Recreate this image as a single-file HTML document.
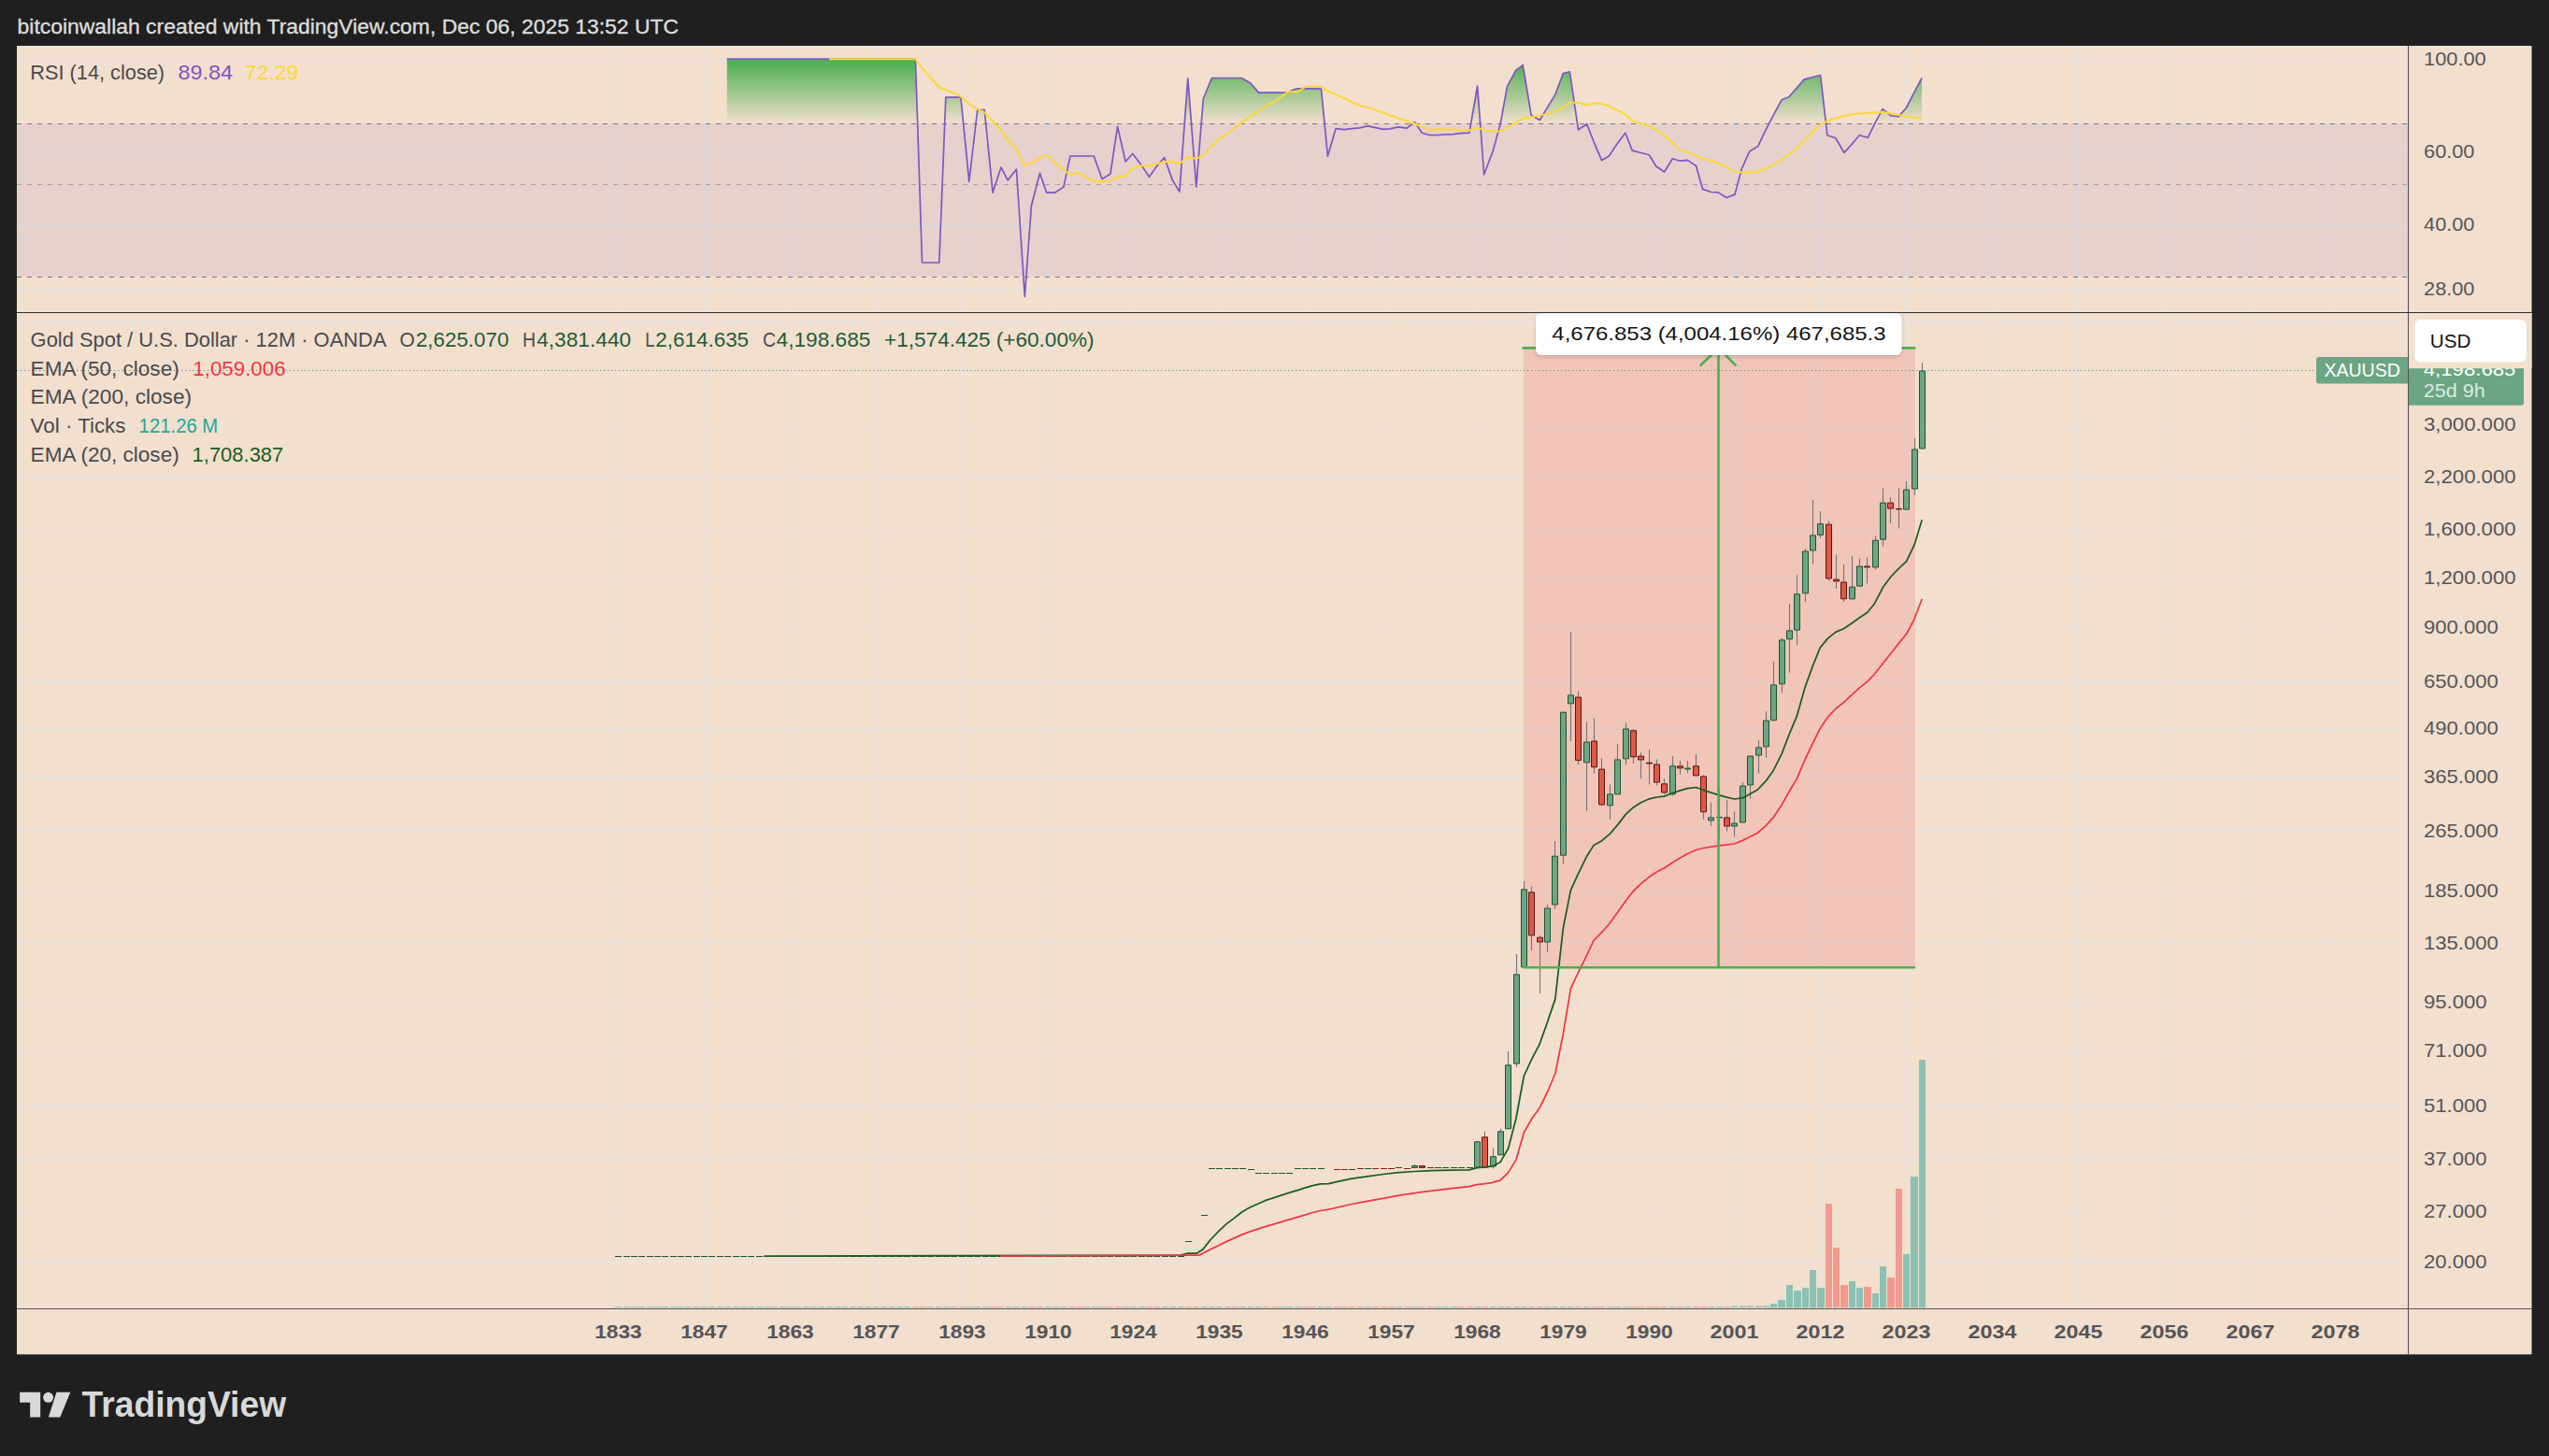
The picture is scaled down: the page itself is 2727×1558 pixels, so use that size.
<!DOCTYPE html>
<html lang="en"><head><meta charset="utf-8"><title>XAUUSD 12M chart</title>
<style>html,body{margin:0;padding:0;background:#1f1f1f;}body{width:2727px;height:1558px;overflow:hidden;}svg{display:block;}text{white-space:pre;}</style>
</head><body>
<svg width="2727" height="1558" viewBox="0 0 2727 1558" font-family="'Liberation Sans', sans-serif">
<defs>
<linearGradient id="gr" gradientUnits="userSpaceOnUse" x1="0" y1="63" x2="0" y2="132.5"><stop offset="0" stop-color="#4caf50" stop-opacity="1"/><stop offset="0.12" stop-color="#4caf50" stop-opacity="0.92"/><stop offset="1" stop-color="#4caf50" stop-opacity="0"/></linearGradient>
<clipPath id="cpR"><rect x="18" y="49" width="2558.5" height="285.5"/></clipPath>
<clipPath id="cp70"><rect x="18" y="49" width="2558.5" height="83.5"/></clipPath>
<clipPath id="cpM"><rect x="18" y="334.5" width="2558.5" height="1066.0"/></clipPath>
<filter id="sh" x="-5%" y="-20%" width="110%" height="150%"><feDropShadow dx="0" dy="2" stdDeviation="2" flood-color="#000" flood-opacity="0.18"/></filter>
</defs>
<rect width="2727" height="1558" fill="#1f1f1f"/>
<rect x="18" y="49" width="2690.5" height="1400.3" fill="#f2dfce"/>
<path d="M661.5 49V334.0M661.5 335.0V1400.0M753.5 49V334.0M753.5 335.0V1400.0M845.5 49V334.0M845.5 335.0V1400.0M937.5 49V334.0M937.5 335.0V1400.0M1029.5 49V334.0M1029.5 335.0V1400.0M1121.5 49V334.0M1121.5 335.0V1400.0M1212.5 49V334.0M1212.5 335.0V1400.0M1304.5 49V334.0M1304.5 335.0V1400.0M1396.5 49V334.0M1396.5 335.0V1400.0M1488.5 49V334.0M1488.5 335.0V1400.0M1580.5 49V334.0M1580.5 335.0V1400.0M1672.5 49V334.0M1672.5 335.0V1400.0M1764.5 49V334.0M1764.5 335.0V1400.0M1855.5 49V334.0M1855.5 335.0V1400.0M1947.5 49V334.0M1947.5 335.0V1400.0M2039.5 49V334.0M2039.5 335.0V1400.0M2131.5 49V334.0M2131.5 335.0V1400.0M2223.5 49V334.0M2223.5 335.0V1400.0M2315.5 49V334.0M2315.5 335.0V1400.0M2407.5 49V334.0M2407.5 335.0V1400.0M2498.5 49V334.0M2498.5 335.0V1400.0M18 63.5H2576.0M18 162.5H2576.0M18 240.5H2576.0M18 309.5H2576.0M18 344.5H2576.0M18 456.5H2576.0M18 511.5H2576.0M18 568.5H2576.0M18 619.5H2576.0M18 670.5H2576.0M18 729.5H2576.0M18 779.5H2576.0M18 831.5H2576.0M18 889.5H2576.0M18 953.5H2576.0M18 1009.5H2576.0M18 1072.5H2576.0M18 1124.5H2576.0M18 1183.5H2576.0M18 1240.5H2576.0M18 1296.5H2576.0M18 1350.5H2576.0" stroke="#e6e4e2" stroke-width="1" fill="none"/>
<rect x="18" y="132" width="2558.0" height="163.8" fill="#7e57c2" fill-opacity="0.1"/>
<path d="M18 132.5H2575.5M18 296.5H2575.5" stroke="#747a8a" stroke-width="1.1" stroke-dasharray="5 6" fill="none"/>
<path d="M18 197.5H2575.5" stroke="#747a8a" stroke-opacity="0.55" stroke-width="1.1" stroke-dasharray="5 6" fill="none"/>
<polygon points="777.8,132.5 777.8,63.2 979.4,63.2 986.5,281.0 1004.8,281.0 1011.8,104.2 1027.9,104.2 1036.8,194.3 1045.7,117.5 1053.2,117.5 1062.1,206.1 1071.0,179.1 1078.1,192.9 1087.4,181.2 1096.3,317.5 1103.4,220.3 1112.5,185.2 1119.6,206.1 1128.7,206.1 1137.9,200.0 1145.0,167.0 1170.3,167.0 1179.0,191.5 1187.9,186.2 1195.6,135.4 1204.1,173.0 1211.7,164.5 1220.4,175.7 1229.5,189.3 1237.6,177.7 1245.7,168.6 1254.4,192.9 1261.9,205.1 1270.8,83.9 1279.8,200.0 1287.3,105.8 1296.4,83.5 1328.4,83.5 1337.9,89.0 1346.6,99.1 1376.4,99.1 1386.5,95.0 1394.6,94.7 1413.5,95.2 1420.4,167.2 1429.1,137.6 1438.2,138.6 1446.3,137.6 1454.4,136.8 1463.5,134.8 1471.6,136.6 1479.7,138.4 1486.8,137.8 1495.9,135.8 1504.7,137.2 1513.6,130.7 1521.3,142.3 1530.4,144.7 1538.5,144.5 1546.6,143.9 1554.7,143.7 1562.8,142.7 1571.9,142.1 1580.6,92.0 1587.7,186.8 1597.2,161.5 1605.3,132.1 1612.4,92.6 1621.6,75.4 1629.2,69.6 1638.1,123.2 1647.4,128.5 1655.5,114.9 1663.6,101.7 1672.3,78.6 1679.4,76.8 1688.5,138.8 1697.6,132.7 1705.1,151.8 1713.6,171.6 1721.3,167.0 1730.4,153.4 1738.9,142.3 1746.2,161.1 1755.7,163.5 1764.3,165.8 1771.6,177.7 1780.5,184.0 1789.4,169.8 1797.3,172.2 1805.4,171.4 1814.5,177.5 1821.6,202.4 1830.7,205.5 1838.2,205.9 1846.9,211.5 1856.0,208.1 1863.1,181.2 1871.8,161.9 1880.8,156.4 1888.5,140.2 1897.6,122.6 1906.1,106.8 1913.8,103.8 1921.9,94.6 1930.0,85.1 1939.1,82.5 1947.6,80.7 1954.9,144.7 1963.8,147.7 1972.9,163.3 1980.6,155.0 1989.2,144.7 1998.3,147.3 2006.0,131.7 2014.1,116.7 2023.2,124.0 2031.3,124.6 2039.4,115.5 2047.5,99.7 2056.0,83.5 2056.0,132.5" fill="url(#gr)" clip-path="url(#cp70)"/>
<polyline points="777.8,63.2 979.4,63.2 986.5,281.0 1004.8,281.0 1011.8,104.2 1027.9,104.2 1036.8,194.3 1045.7,117.5 1053.2,117.5 1062.1,206.1 1071.0,179.1 1078.1,192.9 1087.4,181.2 1096.3,317.5 1103.4,220.3 1112.5,185.2 1119.6,206.1 1128.7,206.1 1137.9,200.0 1145.0,167.0 1170.3,167.0 1179.0,191.5 1187.9,186.2 1195.6,135.4 1204.1,173.0 1211.7,164.5 1220.4,175.7 1229.5,189.3 1237.6,177.7 1245.7,168.6 1254.4,192.9 1261.9,205.1 1270.8,83.9 1279.8,200.0 1287.3,105.8 1296.4,83.5 1328.4,83.5 1337.9,89.0 1346.6,99.1 1376.4,99.1 1386.5,95.0 1394.6,94.7 1413.5,95.2 1420.4,167.2 1429.1,137.6 1438.2,138.6 1446.3,137.6 1454.4,136.8 1463.5,134.8 1471.6,136.6 1479.7,138.4 1486.8,137.8 1495.9,135.8 1504.7,137.2 1513.6,130.7 1521.3,142.3 1530.4,144.7 1538.5,144.5 1546.6,143.9 1554.7,143.7 1562.8,142.7 1571.9,142.1 1580.6,92.0 1587.7,186.8 1597.2,161.5 1605.3,132.1 1612.4,92.6 1621.6,75.4 1629.2,69.6 1638.1,123.2 1647.4,128.5 1655.5,114.9 1663.6,101.7 1672.3,78.6 1679.4,76.8 1688.5,138.8 1697.6,132.7 1705.1,151.8 1713.6,171.6 1721.3,167.0 1730.4,153.4 1738.9,142.3 1746.2,161.1 1755.7,163.5 1764.3,165.8 1771.6,177.7 1780.5,184.0 1789.4,169.8 1797.3,172.2 1805.4,171.4 1814.5,177.5 1821.6,202.4 1830.7,205.5 1838.2,205.9 1846.9,211.5 1856.0,208.1 1863.1,181.2 1871.8,161.9 1880.8,156.4 1888.5,140.2 1897.6,122.6 1906.1,106.8 1913.8,103.8 1921.9,94.6 1930.0,85.1 1939.1,82.5 1947.6,80.7 1954.9,144.7 1963.8,147.7 1972.9,163.3 1980.6,155.0 1989.2,144.7 1998.3,147.3 2006.0,131.7 2014.1,116.7 2023.2,124.0 2031.3,124.6 2039.4,115.5 2047.5,99.7 2056.0,83.5" fill="none" stroke="#7e57c2" stroke-width="1.7" stroke-linejoin="round" clip-path="url(#cpR)"/>
<polyline points="887.0,63.2 979.4,63.2 985.7,71.9 1004.5,93.2 1023.4,100.7 1027.9,103.4 1037.6,111.9 1053.2,120.4 1071.0,139.2 1078.1,149.3 1087.4,159.9 1096.3,177.1 1103.4,174.1 1119.6,165.6 1128.7,174.1 1145.0,187.2 1153.7,184.8 1170.3,194.3 1187.9,193.5 1195.5,188.9 1204.2,188.4 1211.7,180.1 1220.4,177.3 1229.5,177.7 1237.6,175.3 1245.7,173.3 1254.4,172.6 1261.9,175.3 1270.8,167.6 1279.8,170.0 1287.3,165.6 1296.4,156.4 1304.7,148.3 1313.6,142.3 1328.4,131.1 1337.9,124.6 1346.6,118.5 1355.1,112.9 1364.2,108.2 1371.3,103.4 1378.4,97.7 1387.5,98.7 1396.7,93.0 1404.8,92.2 1413.5,93.0 1420.4,97.7 1429.1,101.1 1446.3,109.2 1454.4,112.5 1463.5,115.1 1479.7,120.6 1495.9,126.4 1513.6,132.5 1530.4,139.4 1538.5,138.0 1554.7,138.8 1571.9,139.4 1580.6,136.6 1587.7,139.2 1597.2,140.8 1605.3,140.2 1617.5,133.7 1629.1,126.7 1638.2,125.2 1647.4,123.6 1655.5,121.6 1663.6,119.4 1672.3,114.9 1679.4,109.8 1688.5,109.8 1697.6,112.5 1705.1,110.4 1713.6,111.1 1721.3,113.5 1730.4,117.9 1738.9,122.4 1746.2,129.3 1755.7,132.1 1764.3,134.6 1771.6,138.8 1780.5,144.7 1789.4,152.4 1796.3,160.1 1805.4,162.9 1814.5,166.6 1821.6,169.6 1830.7,172.0 1838.2,174.7 1846.9,178.7 1856.0,183.4 1863.1,184.6 1871.8,184.6 1880.8,183.8 1888.5,180.7 1897.6,176.1 1906.1,171.0 1913.8,164.9 1921.9,159.1 1930.0,150.8 1939.1,141.2 1947.6,133.1 1954.9,129.7 1963.8,126.5 1972.9,124.2 1980.6,122.6 1989.2,121.6 1998.3,121.0 2006.0,120.4 2014.1,120.0 2023.2,121.6 2031.3,123.0 2039.4,124.6 2047.5,125.8 2056.0,126.0" fill="none" stroke="#fdd835" stroke-width="2" stroke-linejoin="round" clip-path="url(#cpR)"/>
<g clip-path="url(#cpM)">
<rect x="1630" y="372.5" width="419" height="662.8" fill="#f23645" fill-opacity="0.15"/>
<path d="M658.0 1398.0h7v1.0h-7zM667.0 1398.0h7v1.0h-7zM675.0 1398.0h7v1.0h-7zM683.0 1398.0h7v1.0h-7zM692.0 1398.0h7v1.0h-7zM700.0 1398.0h7v1.0h-7zM708.0 1398.0h7v1.0h-7zM717.0 1398.0h7v1.0h-7zM725.0 1398.0h7v1.0h-7zM733.0 1398.0h7v1.0h-7zM742.0 1398.0h7v1.0h-7zM750.0 1398.0h7v1.0h-7zM758.0 1398.0h7v1.0h-7zM767.0 1398.0h7v1.0h-7zM775.0 1398.0h7v1.0h-7zM784.0 1398.0h7v1.0h-7zM792.0 1398.0h7v1.0h-7zM800.0 1398.0h7v1.0h-7zM809.0 1398.0h7v1.0h-7zM817.0 1398.0h7v1.0h-7zM825.0 1398.0h7v1.0h-7zM834.0 1398.0h7v1.0h-7zM842.0 1398.0h7v1.0h-7zM850.0 1398.0h7v1.0h-7zM859.0 1398.0h7v1.0h-7zM867.0 1398.0h7v1.0h-7zM875.0 1398.0h7v1.0h-7zM884.0 1398.0h7v1.0h-7zM892.0 1398.0h7v1.0h-7zM900.0 1398.0h7v1.0h-7zM909.0 1398.0h7v1.0h-7zM917.0 1398.0h7v1.0h-7zM925.0 1398.0h7v1.0h-7zM934.0 1398.0h7v1.0h-7zM942.0 1398.0h7v1.0h-7zM951.0 1398.0h7v1.0h-7zM959.0 1398.0h7v1.0h-7zM967.0 1398.0h7v1.0h-7zM992.0 1398.0h7v1.0h-7zM1001.0 1398.0h7v1.0h-7zM1009.0 1398.0h7v1.0h-7zM1034.0 1398.0h7v1.0h-7zM1042.0 1398.0h7v1.0h-7zM1051.0 1398.0h7v1.0h-7zM1076.0 1398.0h7v1.0h-7zM1084.0 1398.0h7v1.0h-7zM1093.0 1398.0h7v1.0h-7zM1118.0 1398.0h7v1.0h-7zM1126.0 1398.0h7v1.0h-7zM1134.0 1398.0h7v1.0h-7zM1159.0 1398.0h7v1.0h-7zM1168.0 1398.0h7v1.0h-7zM1176.0 1398.0h7v1.0h-7zM1201.0 1398.0h7v1.0h-7zM1209.0 1398.0h7v1.0h-7zM1218.0 1398.0h7v1.0h-7zM1243.0 1398.0h7v1.0h-7zM1251.0 1398.0h7v1.0h-7zM1260.0 1398.0h7v1.0h-7zM1285.0 1398.0h7v1.0h-7zM1293.0 1398.0h7v1.0h-7zM1301.0 1398.0h7v1.0h-7zM1326.0 1398.0h7v1.0h-7zM1335.0 1398.0h7v1.0h-7zM1343.0 1398.0h7v1.0h-7zM1368.0 1398.0h7v1.0h-7zM1376.0 1398.0h7v1.0h-7zM1385.0 1398.0h7v1.0h-7zM1410.0 1398.0h7v1.0h-7zM1418.0 1398.0h7v1.0h-7zM1460.0 1398.0h7v1.0h-7zM1493.0 1398.0h7v1.0h-7zM1510.0 1398.0h7v1.0h-7zM1535.0 1398.0h7v1.0h-7zM1543.0 1398.0h7v1.0h-7zM1552.0 1398.0h7v1.0h-7zM1577.0 1398.0h7v1.0h-7zM1594.0 1398.0h7v1.0h-7zM1602.0 1398.0h7v1.0h-7zM1610.0 1398.0h7v1.0h-7zM1619.0 1398.0h7v1.0h-7zM1627.0 1398.0h7v1.0h-7zM1652.0 1398.0h7v1.0h-7zM1660.0 1398.0h7v1.0h-7zM1669.0 1398.0h7v1.0h-7zM1677.0 1398.0h7v1.0h-7zM1694.0 1398.0h7v1.0h-7zM1719.0 1398.0h7v1.0h-7zM1727.0 1398.0h7v1.0h-7zM1736.0 1398.0h7v1.0h-7zM1786.0 1398.0h7v1.0h-7zM1802.0 1398.0h7v1.0h-7zM1827.0 1398.0h7v1.0h-7zM1836.0 1398.0h7v1.0h-7zM1852.0 1397.4h7v1.6h-7zM1861.0 1397.4h7v1.6h-7zM1869.0 1397.4h7v1.6h-7zM1878.0 1397.4h7v1.6h-7zM1886.0 1397.4h7v1.6h-7zM2053 1133.9H2060V1399.2H2053zM2044 1259.0H2052V1399.2H2044zM2036 1342.1H2043V1399.2H2036zM2011 1355.0H2018V1399.2H2011zM2003 1383.9H2010V1399.2H2003zM1986 1377.9H1993V1399.2H1986zM1978 1371.0H1985V1399.2H1978zM1944 1377.9H1952V1399.2H1944zM1936 1359.0H1943V1399.2H1936zM1928 1377.9H1935V1399.2H1928zM1919 1380.9H1927V1399.2H1919zM1911 1374.9H1918V1399.2H1911zM1902 1390.9H1910V1399.2H1902zM1894 1394.9H1901V1399.2H1894z" fill="#8cc1b4"/>
<path d="M976.0 1398.0h7v1.0h-7zM984.0 1398.0h7v1.0h-7zM1017.0 1398.0h7v1.0h-7zM1026.0 1398.0h7v1.0h-7zM1059.0 1398.0h7v1.0h-7zM1067.0 1398.0h7v1.0h-7zM1101.0 1398.0h7v1.0h-7zM1109.0 1398.0h7v1.0h-7zM1143.0 1398.0h7v1.0h-7zM1151.0 1398.0h7v1.0h-7zM1184.0 1398.0h7v1.0h-7zM1193.0 1398.0h7v1.0h-7zM1226.0 1398.0h7v1.0h-7zM1234.0 1398.0h7v1.0h-7zM1268.0 1398.0h7v1.0h-7zM1276.0 1398.0h7v1.0h-7zM1310.0 1398.0h7v1.0h-7zM1318.0 1398.0h7v1.0h-7zM1351.0 1398.0h7v1.0h-7zM1360.0 1398.0h7v1.0h-7zM1393.0 1398.0h7v1.0h-7zM1401.0 1398.0h7v1.0h-7zM1427.0 1398.0h7v1.0h-7zM1435.0 1398.0h7v1.0h-7zM1443.0 1398.0h7v1.0h-7zM1452.0 1398.0h7v1.0h-7zM1468.0 1398.0h7v1.0h-7zM1477.0 1398.0h7v1.0h-7zM1485.0 1398.0h7v1.0h-7zM1502.0 1398.0h7v1.0h-7zM1518.0 1398.0h7v1.0h-7zM1527.0 1398.0h7v1.0h-7zM1560.0 1398.0h7v1.0h-7zM1569.0 1398.0h7v1.0h-7zM1585.0 1398.0h7v1.0h-7zM1635.0 1398.0h7v1.0h-7zM1644.0 1398.0h7v1.0h-7zM1685.0 1398.0h7v1.0h-7zM1702.0 1398.0h7v1.0h-7zM1710.0 1398.0h7v1.0h-7zM1744.0 1398.0h7v1.0h-7zM1752.0 1398.0h7v1.0h-7zM1761.0 1398.0h7v1.0h-7zM1769.0 1398.0h7v1.0h-7zM1777.0 1398.0h7v1.0h-7zM1794.0 1398.0h7v1.0h-7zM1811.0 1398.0h7v1.0h-7zM1819.0 1398.0h7v1.0h-7zM1844.0 1398.0h7v1.0h-7zM2028 1272.0H2035V1399.2H2028zM2019 1367.0H2027V1399.2H2019zM1994 1376.9H2002V1399.2H1994zM1969 1374.9H1977V1399.2H1969zM1961 1334.9H1968V1399.2H1961zM1953 1287.9H1960V1399.2H1953z" fill="#f19a90"/>
<path d="M2056.5 388.1V396.4M2048.5 469.1V480.4M2048.5 523.5V529.8M2039.5 515.0V523.5M2039.5 545.6V546.0M2031.5 521.8V544.0M2031.5 545.2V565.6M2022.5 532.3V537.6M2022.5 544.6V559.9M2014.5 521.8V537.6M2014.5 577.7V584.4M2006.5 573.2V577.7M2006.5 607.5V609.5M1997.5 596.2V605.5M1997.5 607.5V624.5M1989.5 597.5V605.5M1989.5 627.6V628.0M1981.5 595.0V627.6M1981.5 641.3V641.8M1972.5 604.0V622.5M1972.5 641.3V643.9M1964.5 593.2V619.5M1964.5 622.5V630.1M1956.5 557.4V560.6M1956.5 619.5V621.5M1947.5 547.0V560.2M1947.5 572.8V575.9M1939.5 535.0V572.4M1939.5 589.5V603.7M1931.5 587.0V589.5M1931.5 635.3V643.9M1922.5 615.3V635.3M1922.5 674.7V690.5M1914.5 646.3V674.4M1914.5 684.4V719.7M1906.5 682.4V684.4M1906.5 732.4V741.6M1897.5 708.1V732.4M1889.5 761.2V770.6M1889.5 799.4V810.8M1881.5 792.3V799.4M1881.5 808.6V827.5M1872.5 840.5V854.8M1864.5 837.1V840.5M1855.5 868.2V880.5M1855.5 884.5V895.6M1847.5 856.1V874.4M1847.5 884.5V889.6M1839.5 844.3V874.0M1839.5 875.0V897.9M1830.5 858.4V874.4M1830.5 878.4V883.8M1822.5 829.3V830.4M1822.5 869.3V876.7M1814.5 807.0V819.3M1805.5 814.1V821.5M1805.5 823.5V827.5M1797.5 814.1V819.3M1797.5 822.4V828.7M1789.5 809.2V819.3M1789.5 850.3V851.7M1780.5 833.1V838.3M1780.5 848.5V849.9M1772.5 812.4V817.5M1772.5 837.6V840.5M1764.5 802.3V815.7M1764.5 817.5V839.4M1755.5 805.2V808.6M1755.5 813.5V833.6M1747.5 780.2V781.3M1747.5 810.4V816.8M1739.5 773.3V779.5M1739.5 812.4V818.6M1730.5 796.3V812.4M1722.5 839.4V849.4M1722.5 862.4V876.7M1713.5 811.5V822.6M1713.5 861.5V862.6M1705.5 768.4V792.5M1705.5 821.3V827.5M1697.5 772.2V793.6M1697.5 816.4V867.7M1688.5 739.4V745.6M1688.5 814.1V818.6M1680.5 676.2V743.4M1680.5 753.4V792.9M1672.5 915.7V924.7M1663.5 900.1V915.7M1663.5 968.4V972.6M1655.5 968.1V971.4M1655.5 1008.5V1019.0M1647.5 1001.0V1002.7M1647.5 1008.5V1062.9M1638.5 948.8V954.3M1638.5 1001.4V1017.0M1630.5 943.0V951.3M1622.5 1021.0V1042.3M1622.5 1138.6V1141.8M1613.5 1125.0V1139.3M1605.5 1207.8V1210.3M1597.5 1228.8V1237.1M1597.5 1248.4V1250.4M1588.5 1210.8V1216.3M1513.5 1246.0V1247.1" stroke="#737578" stroke-width="1.1" fill="none"/>
<path d="M658.0 1344.5h7M667.0 1344.5h7M675.0 1344.5h7M683.0 1344.5h7M692.0 1344.5h7M700.0 1344.5h7M708.0 1344.5h7M717.0 1344.5h7M725.0 1344.5h7M733.0 1344.5h7M742.0 1344.5h7M750.0 1344.5h7M758.0 1344.5h7M767.0 1344.5h7M775.0 1344.5h7M784.0 1344.5h7M792.0 1344.5h7M800.0 1344.5h7M809.0 1344.5h7M817.0 1344.5h7M825.0 1344.5h7M834.0 1344.5h7M842.0 1344.5h7M850.0 1344.5h7M859.0 1344.5h7M867.0 1344.5h7M875.0 1344.5h7M884.0 1344.5h7M892.0 1344.5h7M900.0 1344.5h7M909.0 1344.5h7M917.0 1344.5h7M925.0 1344.5h7M934.0 1344.5h7M942.0 1344.5h7M951.0 1344.5h7M959.0 1344.5h7M967.0 1344.5h7M976.0 1344.5h7M984.0 1344.5h7M992.0 1344.5h7M1001.0 1344.5h7M1009.0 1344.5h7M1017.0 1344.5h7M1026.0 1344.5h7M1034.0 1344.5h7M1042.0 1344.5h7M1051.0 1344.5h7M1059.0 1344.5h7M1067.0 1344.5h7M1076.0 1344.5h7M1084.0 1344.5h7M1093.0 1344.5h7M1101.0 1344.5h7M1109.0 1344.5h7M1118.0 1344.5h7M1126.0 1344.5h7M1134.0 1344.5h7M1143.0 1344.5h7M1151.0 1344.5h7M1159.0 1344.5h7M1168.0 1344.5h7M1176.0 1344.5h7M1184.0 1344.5h7M1193.0 1344.5h7M1201.0 1344.5h7M1209.0 1344.5h7M1218.0 1344.5h7M1226.0 1344.5h7M1234.0 1344.5h7M1243.0 1344.5h7M1251.0 1344.5h7M1260.0 1344.5h7M1268.0 1328.5h7M1276.0 1343.5h7M1285.0 1300.5h7M1293.0 1250.5h7M1301.0 1250.5h7M1310.0 1250.5h7M1318.0 1250.5h7M1326.0 1250.5h7M1335.0 1251.5h7M1343.0 1255.5h7M1351.0 1255.5h7M1360.0 1255.5h7M1368.0 1255.5h7M1376.0 1255.5h7M1385.0 1250.5h7M1393.0 1250.5h7M1401.0 1250.5h7M1410.0 1250.5h7M1418.0 1266.5h7M1443.0 1251.5h7M1460.0 1250.5h7M1493.0 1249.5h7M1535.0 1249.5h7M1543.0 1249.5h7M1552.0 1249.5h7M1560.0 1249.5h7M1569.0 1249.5h7" stroke="#1b5232" stroke-width="1.15" fill="none"/>
<path d="M1427.0 1251.5h7M1435.0 1251.5h7M1452.0 1250.5h7M1468.0 1250.5h7M1477.0 1250.5h7M1485.0 1250.5h7M1502.0 1250.5h7M1527.0 1249.5h7" stroke="#7a2018" stroke-width="1.15" fill="none"/>
<path d="M2053.5 396.9h6v83.0h-6zM2045.5 480.9h6v42.1h-6zM2036.5 524.0h6v21.1h-6zM2011.5 538.1h6v39.1h-6zM2003.5 578.2h6v28.8h-6zM1986.5 606.0h6v21.1h-6zM1978.5 628.1h6v12.7h-6zM1944.5 560.7h6v11.6h-6zM1936.5 572.9h6v16.1h-6zM1928.5 590.0h6v44.8h-6zM1919.5 635.8h6v38.4h-6zM1911.5 674.9h6v9.0h-6zM1903.5 684.9h6v47.0h-6zM1894.5 732.9h6v37.9h-6zM1886.5 771.1h6v27.8h-6zM1878.5 799.9h6v8.2h-6zM1869.5 809.1h6v30.9h-6zM1861.5 841.0h6v39.0h-6zM1852.5 881.0h6v3.0h-6zM1836.5 874.5h6v0.4h-6zM1827.5 874.9h6v3.0h-6zM1802.5 822.0h6v1.0h-6zM1786.5 819.8h6v30.0h-6zM1736.5 780.0h6v31.9h-6zM1727.5 812.9h6v36.9h-6zM1719.5 849.9h6v12.0h-6zM1694.5 794.1h6v21.8h-6zM1677.5 743.9h6v9.0h-6zM1669.5 762.2h6v153.0h-6zM1660.5 916.2h6v51.7h-6zM1652.5 971.9h6v36.1h-6zM1627.5 951.8h6v83.0h-6zM1619.5 1042.8h6v95.3h-6zM1610.5 1139.8h6v68.0h-6zM1602.5 1210.8h6v25.0h-6zM1594.5 1237.6h6v10.3h-6zM1577.5 1221.8h6v27.3h-6zM1510.5 1247.6h6v1.8h-6z" fill="#6ca684" stroke="#1b5232" stroke-width="1"/>
<path d="M2028.5 544.5h6v0.4h-6zM2019.5 538.1h6v6.0h-6zM1994.5 606.0h6v1.0h-6zM1969.5 623.0h6v17.8h-6zM1961.5 620.0h6v2.0h-6zM1953.5 561.1h6v57.9h-6zM1844.5 874.9h6v9.1h-6zM1819.5 830.9h6v37.9h-6zM1811.5 819.8h6v10.1h-6zM1794.5 819.8h6v2.1h-6zM1777.5 838.8h6v9.2h-6zM1769.5 818.0h6v19.1h-6zM1761.5 816.2h6v0.8h-6zM1752.5 809.1h6v3.9h-6zM1744.5 781.8h6v28.1h-6zM1710.5 823.1h6v37.9h-6zM1702.5 793.0h6v27.8h-6zM1685.5 746.1h6v67.5h-6zM1644.5 1003.2h6v4.8h-6zM1635.5 954.8h6v46.1h-6zM1585.5 1216.8h6v32.3h-6zM1518.5 1247.6h6v1.8h-6z" fill="#de5848" stroke="#5a140f" stroke-width="1"/>
<polyline points="817.5,1344.2 1263.1,1343.1 1270.6,1341.2 1280.1,1341.2 1286.7,1337.1 1295.1,1326.5 1303.6,1317.7 1312.1,1309.6 1320.2,1303.6 1328.6,1297.0 1336.6,1292.3 1345.0,1288.5 1353.5,1284.7 1362.0,1281.9 1370.5,1279.1 1378.9,1276.3 1387.4,1273.8 1395.9,1271.2 1404.3,1268.7 1412.8,1266.8 1421.3,1266.7 1429.8,1264.6 1446.3,1261.2 1462.7,1258.8 1479.7,1256.5 1496.6,1254.6 1513.6,1253.5 1530.5,1252.7 1553.1,1252.2 1571.9,1251.8 1580.1,1249.6 1588.6,1248.9 1596.9,1247.9 1605.2,1243.4 1613.6,1229.0 1622.0,1196.5 1630.3,1151.5 1638.8,1133.1 1647.0,1117.5 1655.3,1094.2 1663.8,1069.1 1672.4,992.7 1680.4,952.6 1688.6,934.7 1697.3,916.8 1704.9,904.6 1713.6,899.7 1722.3,892.3 1730.4,882.9 1739.5,871.1 1747.4,863.9 1755.6,858.8 1764.5,854.8 1772.4,853.0 1780.4,852.1 1789.3,848.8 1797.4,845.9 1805.4,843.6 1814.3,842.5 1822.4,845.4 1830.4,848.1 1839.3,850.8 1847.4,853.2 1855.4,855.0 1864.3,853.9 1872.4,849.4 1880.4,845.0 1889.4,835.4 1897.4,824.2 1906.3,806.3 1914.4,785.1 1922.4,766.1 1930.9,736.0 1938.9,713.7 1947.2,693.1 1955.4,683.1 1963.9,676.4 1972.4,672.8 1980.7,667.2 1988.9,661.2 1997.9,655.2 2005.2,646.3 2014.5,628.3 2023.0,617.0 2031.3,608.3 2039.6,600.7 2048.0,583.2 2056.2,556.2" fill="none" stroke="#1b5e20" stroke-width="1.75" stroke-linejoin="round"/>
<polyline points="1070.5,1344.2 1282.9,1343.1 1286.7,1341.2 1295.1,1336.9 1303.6,1332.8 1312.1,1328.6 1320.2,1324.9 1328.6,1321.1 1336.6,1318.1 1345.0,1315.4 1353.5,1312.6 1362.0,1310.2 1370.5,1307.7 1378.9,1305.1 1387.4,1302.6 1395.9,1300.2 1404.3,1297.5 1412.8,1295.5 1421.3,1294.2 1446.3,1288.5 1462.7,1285.3 1479.7,1282.3 1496.6,1279.1 1513.6,1276.6 1530.5,1274.4 1553.1,1271.6 1571.9,1269.7 1580.1,1267.7 1588.6,1266.7 1596.9,1265.4 1605.2,1262.9 1613.6,1254.6 1622.0,1240.9 1630.3,1212.0 1638.8,1197.0 1647.0,1185.7 1655.3,1169.0 1663.8,1149.0 1672.4,1106.0 1680.4,1057.9 1688.6,1040.3 1697.3,1022.8 1704.9,1006.5 1713.6,997.7 1722.3,987.7 1730.4,976.4 1739.5,963.8 1747.4,953.5 1755.6,945.7 1764.5,938.3 1772.4,933.0 1780.4,928.9 1789.3,923.1 1797.4,918.0 1805.4,913.5 1814.3,909.5 1822.4,907.5 1830.4,906.1 1839.3,904.8 1847.4,903.9 1855.4,903.0 1864.3,899.4 1872.4,895.2 1880.4,891.2 1889.4,883.4 1897.4,874.4 1906.3,861.0 1914.4,846.5 1922.4,833.1 1930.9,813.0 1938.9,796.3 1947.2,779.5 1955.4,767.3 1963.9,758.3 1972.4,751.6 1980.7,743.8 1988.9,736.4 1997.9,729.3 2005.2,721.5 2013.5,711.0 2022.0,700.3 2030.9,689.1 2039.8,678.0 2047.6,663.4 2056.2,641.0" fill="none" stroke="#f23645" stroke-width="1.75" stroke-linejoin="round"/>
<path d="M18 396.5H2576.5" stroke="#5d9e7a" stroke-width="1" stroke-dasharray="1.3 2.7" fill="none"/>
<path d="M1629.6 372.4H2048.2M1630.6 1035.3H2047.8M1838.5 373V1035" stroke="#4caf50" stroke-width="2.6" stroke-linecap="round" fill="none"/>
<path d="M1819.5 390.7L1838.5 372.6L1856.6 390.7" stroke="#4caf50" stroke-width="2.6" stroke-linecap="round" stroke-linejoin="miter" fill="none"/>
</g>
<path d="M2576.5 49V1449.3M18 1400.5H2708.5" stroke="#555558" stroke-width="1.1" fill="none"/>
<path d="M18 334.5H2708.5" stroke="#2a2e39" stroke-width="1.1" fill="none"/>
<text x="2593.1" y="70.0" font-size="20.2" fill="#555558" textLength="66.6" lengthAdjust="spacingAndGlyphs">100.00</text>
<text x="2593.1" y="169.3" font-size="20.2" fill="#555558" textLength="54.2" lengthAdjust="spacingAndGlyphs">60.00</text>
<text x="2593.1" y="247.3" font-size="20.2" fill="#555558" textLength="54.2" lengthAdjust="spacingAndGlyphs">40.00</text>
<text x="2593.1" y="316.2" font-size="20.2" fill="#555558" textLength="54.2" lengthAdjust="spacingAndGlyphs">28.00</text>
<text x="2593.0" y="460.9" font-size="20.2" fill="#555558" textLength="98.6" lengthAdjust="spacingAndGlyphs">3,000.000</text>
<text x="2593.0" y="517.0" font-size="20.2" fill="#555558" textLength="98.6" lengthAdjust="spacingAndGlyphs">2,200.000</text>
<text x="2593.0" y="573.0" font-size="20.2" fill="#555558" textLength="98.6" lengthAdjust="spacingAndGlyphs">1,600.000</text>
<text x="2593.0" y="625.2" font-size="20.2" fill="#555558" textLength="98.6" lengthAdjust="spacingAndGlyphs">1,200.000</text>
<text x="2593.0" y="677.9" font-size="20.2" fill="#555558" textLength="79.7" lengthAdjust="spacingAndGlyphs">900.000</text>
<text x="2593.0" y="735.9" font-size="20.2" fill="#555558" textLength="79.7" lengthAdjust="spacingAndGlyphs">650.000</text>
<text x="2593.0" y="785.8" font-size="20.2" fill="#555558" textLength="79.7" lengthAdjust="spacingAndGlyphs">490.000</text>
<text x="2593.0" y="838.4" font-size="20.2" fill="#555558" textLength="79.7" lengthAdjust="spacingAndGlyphs">365.000</text>
<text x="2593.0" y="895.5" font-size="20.2" fill="#555558" textLength="79.7" lengthAdjust="spacingAndGlyphs">265.000</text>
<text x="2593.0" y="959.6" font-size="20.2" fill="#555558" textLength="79.7" lengthAdjust="spacingAndGlyphs">185.000</text>
<text x="2593.0" y="1015.9" font-size="20.2" fill="#555558" textLength="79.7" lengthAdjust="spacingAndGlyphs">135.000</text>
<text x="2593.0" y="1078.6" font-size="20.2" fill="#555558" textLength="67.4" lengthAdjust="spacingAndGlyphs">95.000</text>
<text x="2593.0" y="1130.5" font-size="20.2" fill="#555558" textLength="67.4" lengthAdjust="spacingAndGlyphs">71.000</text>
<text x="2593.0" y="1189.6" font-size="20.2" fill="#555558" textLength="67.4" lengthAdjust="spacingAndGlyphs">51.000</text>
<text x="2593.0" y="1246.8" font-size="20.2" fill="#555558" textLength="67.4" lengthAdjust="spacingAndGlyphs">37.000</text>
<text x="2593.0" y="1303.0" font-size="20.2" fill="#555558" textLength="67.4" lengthAdjust="spacingAndGlyphs">27.000</text>
<text x="2593.0" y="1357.4" font-size="20.2" fill="#555558" textLength="67.4" lengthAdjust="spacingAndGlyphs">20.000</text>
<text x="636.2" y="1432" font-size="20.2" fill="#555558" font-weight="bold" textLength="50.5" lengthAdjust="spacingAndGlyphs">1833</text>
<text x="728.2" y="1432" font-size="20.2" fill="#555558" font-weight="bold" textLength="50.5" lengthAdjust="spacingAndGlyphs">1847</text>
<text x="820.2" y="1432" font-size="20.2" fill="#555558" font-weight="bold" textLength="50.5" lengthAdjust="spacingAndGlyphs">1863</text>
<text x="912.2" y="1432" font-size="20.2" fill="#555558" font-weight="bold" textLength="50.5" lengthAdjust="spacingAndGlyphs">1877</text>
<text x="1004.2" y="1432" font-size="20.2" fill="#555558" font-weight="bold" textLength="50.5" lengthAdjust="spacingAndGlyphs">1893</text>
<text x="1096.2" y="1432" font-size="20.2" fill="#555558" font-weight="bold" textLength="50.5" lengthAdjust="spacingAndGlyphs">1910</text>
<text x="1187.2" y="1432" font-size="20.2" fill="#555558" font-weight="bold" textLength="50.5" lengthAdjust="spacingAndGlyphs">1924</text>
<text x="1279.2" y="1432" font-size="20.2" fill="#555558" font-weight="bold" textLength="50.5" lengthAdjust="spacingAndGlyphs">1935</text>
<text x="1371.2" y="1432" font-size="20.2" fill="#555558" font-weight="bold" textLength="50.5" lengthAdjust="spacingAndGlyphs">1946</text>
<text x="1463.2" y="1432" font-size="20.2" fill="#555558" font-weight="bold" textLength="50.5" lengthAdjust="spacingAndGlyphs">1957</text>
<text x="1555.2" y="1432" font-size="20.2" fill="#555558" font-weight="bold" textLength="50.5" lengthAdjust="spacingAndGlyphs">1968</text>
<text x="1647.2" y="1432" font-size="20.2" fill="#555558" font-weight="bold" textLength="50.5" lengthAdjust="spacingAndGlyphs">1979</text>
<text x="1739.2" y="1432" font-size="20.2" fill="#555558" font-weight="bold" textLength="50.5" lengthAdjust="spacingAndGlyphs">1990</text>
<text x="1829.6" y="1432" font-size="20.2" fill="#555558" font-weight="bold" textLength="51.8" lengthAdjust="spacingAndGlyphs">2001</text>
<text x="1921.6" y="1432" font-size="20.2" fill="#555558" font-weight="bold" textLength="51.8" lengthAdjust="spacingAndGlyphs">2012</text>
<text x="2013.6" y="1432" font-size="20.2" fill="#555558" font-weight="bold" textLength="51.8" lengthAdjust="spacingAndGlyphs">2023</text>
<text x="2105.6" y="1432" font-size="20.2" fill="#555558" font-weight="bold" textLength="51.8" lengthAdjust="spacingAndGlyphs">2034</text>
<text x="2197.6" y="1432" font-size="20.2" fill="#555558" font-weight="bold" textLength="51.8" lengthAdjust="spacingAndGlyphs">2045</text>
<text x="2289.6" y="1432" font-size="20.2" fill="#555558" font-weight="bold" textLength="51.8" lengthAdjust="spacingAndGlyphs">2056</text>
<text x="2381.6" y="1432" font-size="20.2" fill="#555558" font-weight="bold" textLength="51.8" lengthAdjust="spacingAndGlyphs">2067</text>
<text x="2472.6" y="1432" font-size="20.2" fill="#555558" font-weight="bold" textLength="51.8" lengthAdjust="spacingAndGlyphs">2078</text>
<text x="18.6" y="36.1" font-size="21.6" fill="#dcdcdc" textLength="707.4" lengthAdjust="spacingAndGlyphs" stroke="#dcdcdc" stroke-width="0.35">bitcoinwallah created with TradingView.com, Dec 06, 2025 13:52 UTC</text>
<text x="32.3" y="84.8" font-size="21.6" fill="#4a4a4d" textLength="143.8" lengthAdjust="spacingAndGlyphs">RSI (14, close)</text>
<text x="190.4" y="84.8" font-size="21.6" fill="#7e57c2" textLength="58.7" lengthAdjust="spacingAndGlyphs">89.84</text>
<text x="262" y="84.8" font-size="21.6" fill="#fdd835" textLength="57.3" lengthAdjust="spacingAndGlyphs">72.29</text>
<!--legend-->
<text x="32.6" y="370.8" font-size="21.6" fill="#4a4a4d" textLength="380.9" lengthAdjust="spacingAndGlyphs">Gold Spot / U.S. Dollar · 12M · OANDA</text>
<text x="427.6" y="370.8" font-size="21.6" fill="#4a4a4d" textLength="16.3" lengthAdjust="spacingAndGlyphs">O</text>
<text x="444.9" y="370.8" font-size="21.6" fill="#1f5c3a" textLength="99.5" lengthAdjust="spacingAndGlyphs">2,625.070</text>
<text x="559.1" y="370.8" font-size="21.6" fill="#4a4a4d" textLength="14.1" lengthAdjust="spacingAndGlyphs">H</text>
<text x="574.2" y="370.8" font-size="21.6" fill="#1f5c3a" textLength="101.0" lengthAdjust="spacingAndGlyphs">4,381.440</text>
<text x="690.3" y="370.8" font-size="21.6" fill="#4a4a4d" textLength="10.1" lengthAdjust="spacingAndGlyphs">L</text>
<text x="701.3" y="370.8" font-size="21.6" fill="#1f5c3a" textLength="99.8" lengthAdjust="spacingAndGlyphs">2,614.635</text>
<text x="815.9" y="370.8" font-size="21.6" fill="#4a4a4d" textLength="14.1" lengthAdjust="spacingAndGlyphs">C</text>
<text x="830.6" y="370.8" font-size="21.6" fill="#1f5c3a" textLength="100.8" lengthAdjust="spacingAndGlyphs">4,198.685</text>
<text x="946.1" y="370.8" font-size="21.6" fill="#1f5c3a" textLength="224.4" lengthAdjust="spacingAndGlyphs">+1,574.425 (+60.00%)</text>
<text x="32.6" y="401.6" font-size="21.6" fill="#4a4a4d" textLength="159.1" lengthAdjust="spacingAndGlyphs">EMA (50, close)</text>
<text x="206.3" y="401.6" font-size="21.6" fill="#f23645" textLength="99.3" lengthAdjust="spacingAndGlyphs">1,059.006</text>
<text x="32.6" y="432.2" font-size="21.6" fill="#4a4a4d" textLength="172.5" lengthAdjust="spacingAndGlyphs">EMA (200, close)</text>
<text x="32.6" y="463.3" font-size="21.6" fill="#4a4a4d" textLength="101.9" lengthAdjust="spacingAndGlyphs">Vol · Ticks</text>
<text x="148.6" y="463.3" font-size="21.6" fill="#26a69a" textLength="84.7" lengthAdjust="spacingAndGlyphs">121.26 M</text>
<text x="32.6" y="494.4" font-size="21.6" fill="#4a4a4d" textLength="159.1" lengthAdjust="spacingAndGlyphs">EMA (20, close)</text>
<text x="205.6" y="494.4" font-size="21.6" fill="#1b5e20" textLength="97.7" lengthAdjust="spacingAndGlyphs">1,708.387</text>
<rect x="1643" y="335.2" width="391.5" height="44.9" rx="6.5" fill="#fff" filter="url(#sh)"/>
<text x="1660.3" y="364.2" font-size="20.8" fill="#131313" textLength="357.3" lengthAdjust="spacingAndGlyphs">4,676.853 (4,004.16%) 467,685.3</text>
<path d="M2481 382H2576V410.6H2481a3 3 0 0 1-3-3V385a3 3 0 0 1 3-3z" fill="#6ba583"/>
<text x="2486.4" y="403" font-size="20.2" fill="#fff" textLength="81.5" lengthAdjust="spacingAndGlyphs">XAUUSD</text>
<path d="M2577 380H2697a3 3 0 0 1 3 3V430.7a3 3 0 0 1-3 3H2577z" fill="#6ba583"/>
<text x="2592.8" y="402.2" font-size="20.2" fill="#fff" textLength="98.6" lengthAdjust="spacingAndGlyphs">4,198.685</text>
<text x="2592.8" y="425" font-size="20.2" fill="#dcebe2" textLength="66" lengthAdjust="spacingAndGlyphs">25d 9h</text>
<rect x="2577.1" y="335.1" width="131.4" height="59.1" fill="#f2dfce"/>
<rect x="2583.4" y="342" width="119.4" height="45.6" rx="6" fill="#fff"/>
<text x="2599.8" y="371.6" font-size="20.5" fill="#111" textLength="43.5" lengthAdjust="spacingAndGlyphs">USD</text>
<g fill="#d9d9d9">
<path d="M21.2 1489.8H43.2V1516.5H32.2V1500.7H21.2z"/>
<circle cx="51.6" cy="1495.3" r="5.5"/>
<path d="M60.4 1489.8H75.3L64.3 1516.5H51.9z"/>
</g>
<text x="87.6" y="1516.2" font-size="38.4" fill="#d9d9d9" font-weight="bold" textLength="218.5" lengthAdjust="spacingAndGlyphs">TradingView</text>
</svg>
</body></html>
